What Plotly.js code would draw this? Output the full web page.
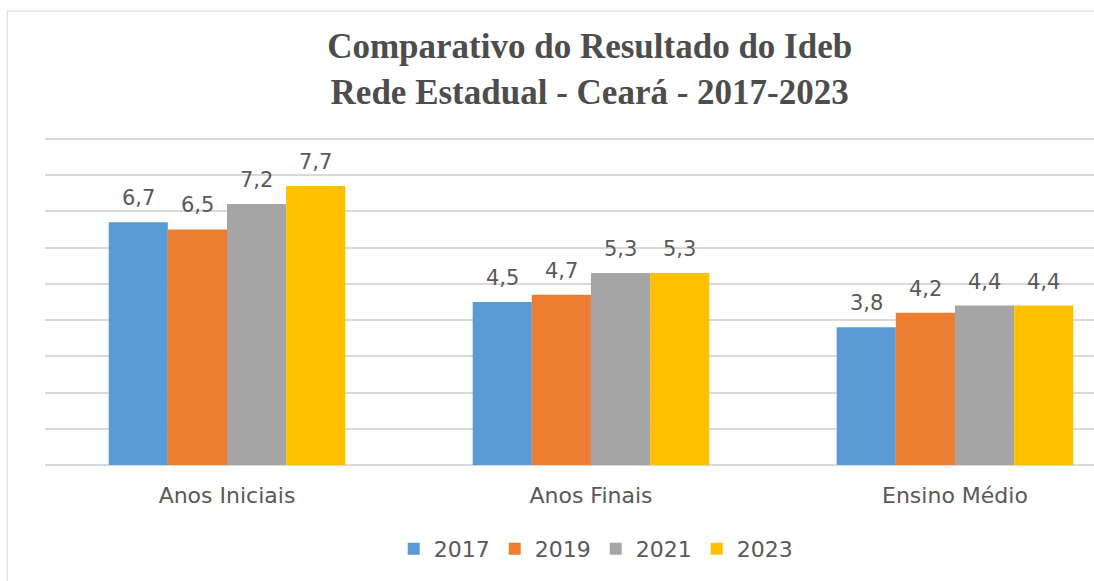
<!DOCTYPE html>
<html>
<head>
<meta charset="utf-8">
<script src="https://cdn.plot.ly/plotly-3.0.1.min.js"></script>
<style>html,body{margin:0;padding:0;background:#fff;}#chart{width:1094px;height:581px;}</style>
</head>
<body>
<div id="chart"></div>
<script>
const categories = ['Anos Iniciais', 'Anos Finais', 'Ensino Médio'];
const years = ['2017', '2019', '2021', '2023'];
const v2017 = [6.7, 4.5, 3.8];
const v2019 = [6.5, 4.7, 4.2];
const v2021 = [7.2, 5.3, 4.4];
const v2023 = [7.7, 5.3, 4.4];
const series = [v2017, v2019, v2021, v2023];
const colors = ['#5B9BD5', '#ED7D31', '#A5A5A5', '#FFC000'];

const bargap = 0.35;
const nSeries = series.length;
const barW = (1 - bargap) / nSeries;

const traces = series.map((vals, j) => ({
  type: 'bar',
  name: years[j],
  x: categories,
  y: vals,
  marker: {color: colors[j]},
  hoverinfo: 'skip'
}));

const annotations = [];
series.forEach((vals, j) => {
  vals.forEach((v, i) => {
    annotations.push({
      x: i + (j - (nSeries - 1) / 2) * barW,
      y: v,
      xref: 'x', yref: 'y',
      text: v.toFixed(1).replace('.', ','),
      showarrow: false,
      yanchor: 'middle',
      yshift: 24,
      font: {family: 'DejaVu Sans', size: 21, color: '#595959'}
    });
  });
});

const layout = {
  width: 1094,
  height: 581,
  paper_bgcolor: '#ffffff',
  plot_bgcolor: '#ffffff',
  margin: {l: 45, r: 0, t: 137, b: 116},
  barmode: 'group',
  bargap: bargap,
  bargroupgap: 0,
  title: {
    text: 'Comparativo do Resultado do Ideb<br>Rede Estadual - Ceará - 2017-2023',
    font: {family: 'Liberation Serif', size: 35, color: '#4d4d4d', weight: 'bold'},
    x: 0.539, xanchor: 'center', xref: 'container',
    y: 1 - 58 / 581, yanchor: 'top', yref: 'container'
  },
  xaxis: {
    type: 'category',
    range: [-0.5, 2.382],
    showgrid: false,
    showline: false,
    ticks: '',
    ticklabelstandoff: 15,
    tickfont: {family: 'DejaVu Sans', size: 22, color: '#595959'},
    fixedrange: true
  },
  yaxis: {
    range: [0, 9.05],
    dtick: 1,
    showticklabels: false,
    showgrid: true,
    gridcolor: '#d9d9d9',
    gridwidth: 2,
    zeroline: true,
    zerolinecolor: '#d9d9d9',
    zerolinewidth: 2,
    ticks: '',
    fixedrange: true
  },
  legend: {
    orientation: 'h',
    x: 0.525, xanchor: 'center',
    y: -0.256, yanchor: 'middle',
    font: {family: 'DejaVu Sans', size: 22, color: '#595959'},
    itemwidth: 30,
    traceorder: 'normal'
  },
  annotations: annotations,
  shapes: [{
    type: 'rect', xref: 'paper', yref: 'paper',
    x0: -0.036, x1: 1.05, y0: -0.5, y1: 1.384,
    line: {color: '#d9d9d9', width: 1},
    fillcolor: 'rgba(0,0,0,0)',
    layer: 'below'
  }],
  showlegend: true
};

Plotly.newPlot('chart', traces, layout, {displayModeBar: false, staticPlot: true});
</script>
</body>
</html>
